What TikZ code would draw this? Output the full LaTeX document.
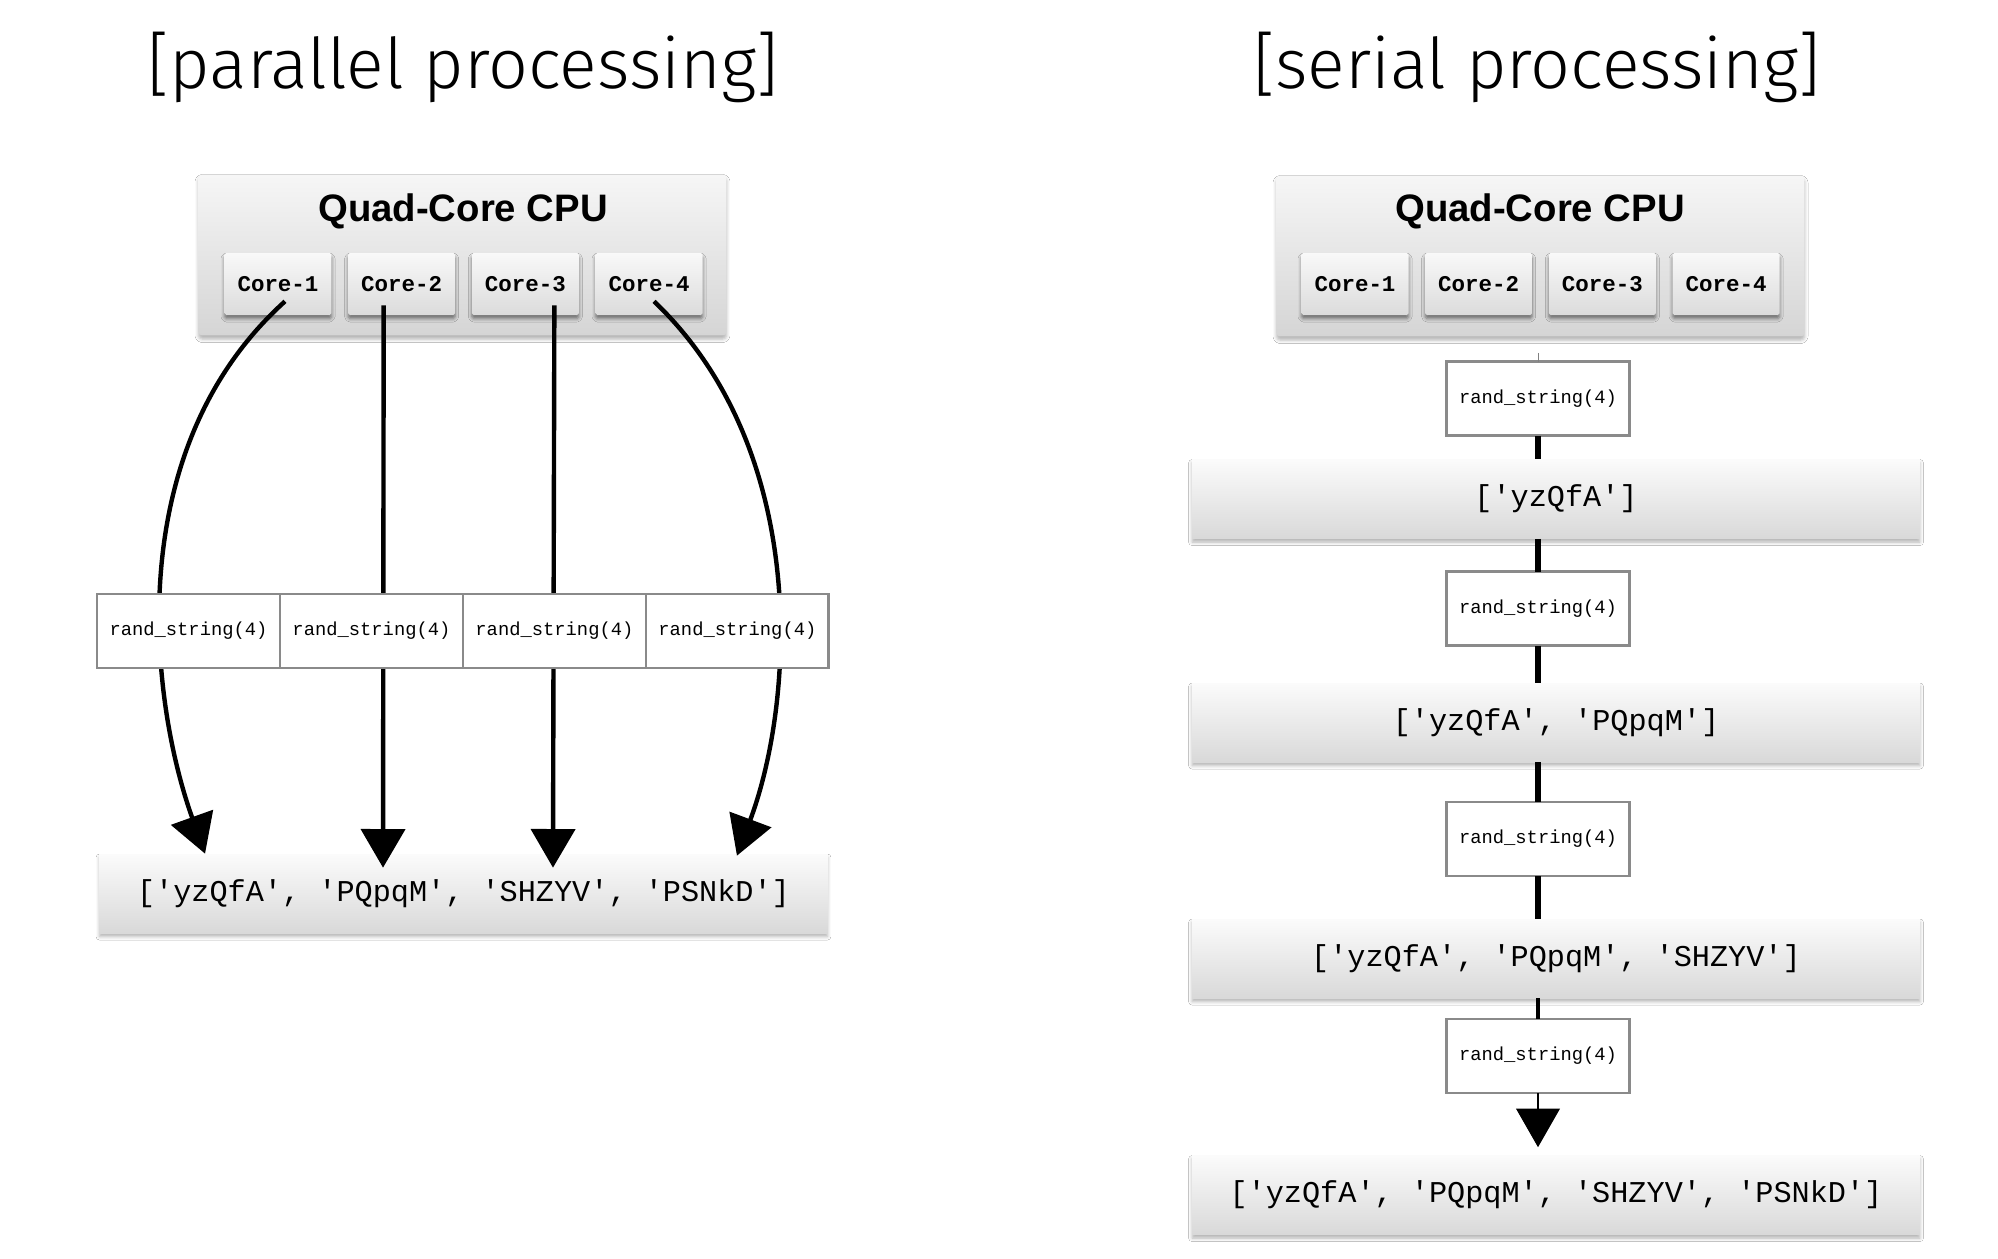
\documentclass[tikz,border=0pt]{standalone}
\usepackage{fontspec}
\setmainfont{Liberation Sans}
\newfontfamily\codefont{Liberation Mono}
\newfontfamily\titlefont{Fira Sans}[UprightFont={* Light}]
\usetikzlibrary{positioning,arrows.meta,shadows.blur}
\definecolor{boxedge}{HTML}{8A8A8A}
\begin{document}
\begin{tikzpicture}[x=0.02cm, y=-0.02cm,
  title_node/.style={font=\titlefont\fontsize{39.8}{48}\selectfont, anchor=base},
  cpu_node/.style={rectangle, rounded corners=2pt, minimum width=10.56cm, minimum height=3.22cm,
    top color=gray!7, bottom color=gray!33,
    blur shadow={shadow xshift=0pt, shadow yshift=-2pt, shadow blur radius=2pt, shadow opacity=30}},
  cpu_label/.style={font=\bfseries\fontsize{21.8}{26}\selectfont, anchor=base},
  core_node/.style={rectangle, rounded corners=1pt, minimum width=2.14cm, minimum height=1.24cm,
    top color=gray!5, bottom color=gray!28,
    blur shadow={shadow xshift=0pt, shadow yshift=-2pt, shadow blur radius=2pt, shadow opacity=50},
    font=\codefont\bfseries\fontsize{12.8}{15}\selectfont},
  func_node/.style={rectangle, draw=boxedge, line width=1.6pt, fill=white, inner sep=0pt, outer sep=0pt,
    minimum width=3.66cm, minimum height=1.48cm, font=\codefont\fontsize{10.7}{13}\selectfont},
  list_node/.style={rectangle, minimum width=14.56cm, minimum height=1.58cm,
    top color=gray!3, bottom color=gray!30,
    blur shadow={shadow xshift=0pt, shadow yshift=-2pt, shadow blur radius=2pt, shadow opacity=30},
    font=\codefont\fontsize{17.2}{20}\selectfont},
  par_arrow/.style={line width=2.5pt, -{Triangle[length=22pt, width=25pt]}},
  ser_line/.style={line width=3.5pt}]

  \useasboundingbox[fill=white] (0,0) rectangle (1998,1258);

  % titles
  \node[title_node] (t1) at (463,88) {[parallel processing]};
  \node[title_node] (t2) at (1537,88) {[serial processing]};

  % parallel side
  \node[cpu_node] (cpuL) at (462.5,255) {};
  \node[cpu_label] (cpuLt) at (463,221) {Quad-Core CPU};
  \node[core_node] (c1L) at (278,284) {Core-1};
  \node[core_node, right=0.32cm of c1L] (c2L) {Core-2};
  \node[core_node, right=0.32cm of c2L] (c3L) {Core-3};
  \node[core_node, right=0.32cm of c3L] (c4L) {Core-4};
  \node[list_node] (resL) at (463.5,893.5) {['yzQfA', 'PQpqM', 'SHZYV', 'PSNkD']};

  \draw[par_arrow] ([xshift=0.14cm,yshift=0.28cm]c1L.south) .. controls (120,450) and (150,700) .. ([xshift=-5.17cm]resL.north);
  \draw[par_arrow] ([xshift=-0.36cm,yshift=0.2cm]c2L.south) -- ([xshift=-1.61cm,yshift=-0.28cm]resL.north);
  \draw[par_arrow] ([xshift=0.58cm,yshift=0.2cm]c3L.south) -- ([xshift=1.79cm,yshift=-0.28cm]resL.north);
  \draw[par_arrow] ([xshift=0.1cm,yshift=0.28cm]c4L.south) .. controls (810,450) and (795,700) .. ([xshift=5.47cm,yshift=-0.04cm]resL.north);

  \node[func_node] (f1L) at (188.5,631) {rand\_string(4)};
  \node[func_node, right=0pt of f1L] (f2L) {rand\_string(4)};
  \node[func_node, right=0pt of f2L] (f3L) {rand\_string(4)};
  \node[func_node, right=0pt of f3L] (f4L) {rand\_string(4)};

  % serial side
  \node[cpu_node] (cpuR) at (1540.5,256) {};
  \node[cpu_label] (cpuRt) at (1540,221) {Quad-Core CPU};
  \node[core_node] (c1R) at (1355,284) {Core-1};
  \node[core_node, right=0.32cm of c1R] (c2R) {Core-2};
  \node[core_node, right=0.32cm of c2R] (c3R) {Core-3};
  \node[core_node, right=0.32cm of c3R] (c4R) {Core-4};

  \node[func_node] (f1R) at (1538,398.5) {rand\_string(4)};
  \node[list_node] (l1R) at (1556,499) {['yzQfA']};
  \node[func_node] (f2R) at (1538,608.5) {rand\_string(4)};
  \node[list_node] (l2R) at (1556,722.5) {['yzQfA', 'PQpqM']};
  \node[func_node] (f3R) at (1538,839) {rand\_string(4)};
  \node[list_node] (l3R) at (1556,958.5) {['yzQfA', 'PQpqM', 'SHZYV']};
  \node[func_node] (f4R) at (1538,1056) {rand\_string(4)};
  \node[list_node] (l4R) at (1556,1195) {['yzQfA', 'PQpqM', 'SHZYV', 'PSNkD']};

  \draw[line width=0.4pt, gray] ([yshift=-0.32cm]f1R.north |- cpuR.south) -- (f1R.north);
  \path[ser_line]
    (f1R.south) edge (f1R.south |- l1R.north)
    (f1R.south |- l1R.south) edge (f2R.north)
    (f2R.south) edge (f2R.south |- l2R.north)
    (f2R.south |- l2R.south) edge (f3R.north)
    (f3R.south) edge (f3R.south |- l3R.north);
  \draw[line width=2pt] (f3R.north |- l3R.south) -- (f4R.north);
  \draw[line width=0.6pt, -{Triangle[length=22pt, width=25pt]}, shorten >=0.16cm] (f4R.south) -- (f4R.south |- l4R.north);
\end{tikzpicture}
\end{document}
